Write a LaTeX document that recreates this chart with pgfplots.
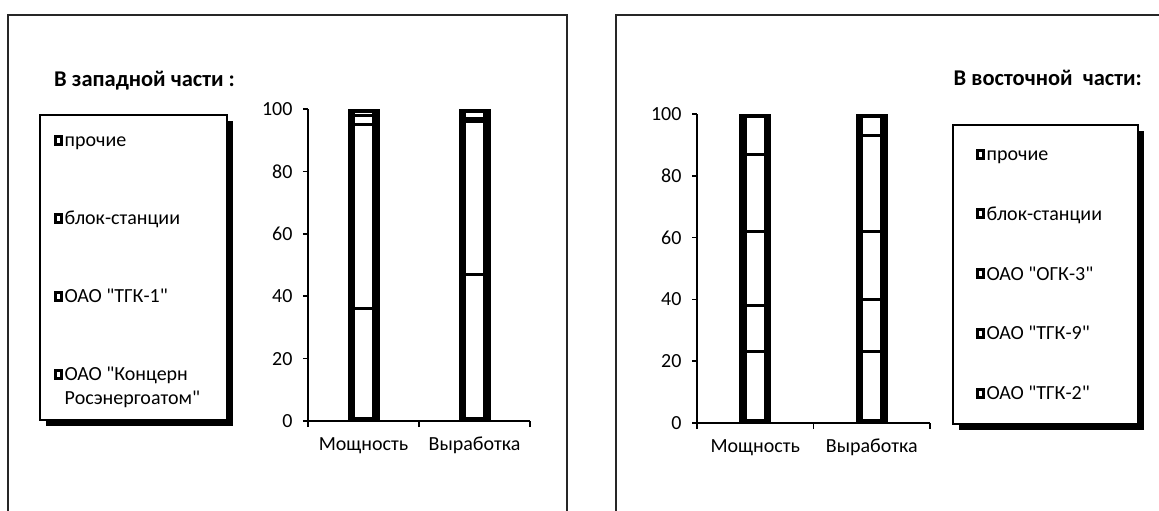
\documentclass[border=0pt]{standalone}
\usepackage{fontspec}
\setmainfont{Carlito}[Ligatures=TeXOff]
\usepackage{pgfplots}
\pgfplotsset{compat=1.18}
\pgfplotsset{
 mybar/.style={fill=white, draw=black, line width=3pt},
 myouter/.style={fill=none, draw=black, line width=7.5pt},
 mybars/.style={
  bar width=24.5pt,
  ymin=0, ymax=100, xmin=-0.5, xmax=1.5,
  scale only axis,
  axis lines=left,
  axis line style={-, line width=1.5pt, black},
  ytick={0,20,...,100},
  xtick={0,1}, xticklabels={Мощность,Выработка},
  minor xtick={-0.5,0.5,1.5},
  tick align=outside,
  major tick length=5pt, minor tick length=6pt,
  every major x tick/.append style={draw=none},
  every minor x tick/.append style={line width=1.5pt, black},
  every major y tick/.append style={line width=1.5pt, black},
  tick label style={font=\fontsize{20}{24}\selectfont},
  yticklabel style={xshift=-7pt},
  xticklabel style={yshift=-6pt, text height=15pt, text depth=5pt},
  /pgf/number format/assume math mode=true,
  reverse legend,
  legend cell align=left,
  legend style={draw=none, fill=none, inner sep=0pt,
    font=\fontsize{20}{24}\selectfont,
    nodes={text height=14pt, text depth=5pt, inner ysep=1pt, inner xsep=2pt}},
  legend image code/.code={\draw[black, line width=4pt, fill=white] (1pt,-4.5pt) rectangle (10pt,5pt);},
 }
}
\begin{document}
\begin{tikzpicture}[font=\fontsize{20}{24}\selectfont]
\useasboundingbox (0,0) rectangle (1159pt,-511pt);
% panel frames
\draw[black!85, line width=2pt] (8pt,-520pt) -- (8pt,-15pt) -- (567pt,-15pt) -- (567pt,-520pt);
\draw[black!85, line width=2pt] (616pt,-520pt) -- (616pt,-15pt) -- (1170pt,-15pt);
% legend frames
\fill[black] (46pt,-121pt) rectangle (233pt,-426pt);
\draw[black, line width=1.5pt, fill=white] (40pt,-115pt) rectangle (227pt,-420pt);
\fill[black] (959pt,-131pt) rectangle (1144pt,-430pt);
\draw[black, line width=1.5pt, fill=white] (953pt,-125pt) rectangle (1138pt,-424pt);
% titles
\node[anchor=base west, inner sep=0pt, font=\bfseries\fontsize{22.5}{27}\selectfont] at (54pt,-86pt) {В западной части :};
\node[anchor=base east, inner sep=0pt, font=\bfseries\fontsize{22.5}{27}\selectfont] at (1142pt,-85pt) {В восточной\ \ части:};

% West
\begin{axis}[mybars, ybar stacked, at={(308pt,-421pt)}, anchor=south west, width=222pt, height=312pt,
  legend style={at={(-1.1464,0.9279)}, anchor=north west, row sep=57pt}]
\addplot[mybar] coordinates {(0,36) (1,47)}; \addlegendentry{\begin{tabular}[t]{@{}l@{}}ОАО "Концерн\\Росэнергоатом"\end{tabular}}
\addplot[mybar] coordinates {(0,59) (1,49)}; \addlegendentry{ОАО "ТГК-1"}
\addplot[mybar] coordinates {(0,3) (1,1)}; \addlegendentry{блок-станции}
\addplot[mybar] coordinates {(0,2) (1,3)}; \addlegendentry{прочие}
\end{axis}
\begin{axis}[mybars, ybar, hide axis, at={(308pt,-421pt)}, anchor=south west, width=222pt, height=312pt]
\addplot[myouter] coordinates {(0,100) (1,100)};
\end{axis}

% East
\begin{axis}[mybars, ybar stacked, at={(697pt,-423pt)}, anchor=south west, width=233pt, height=309pt,
  legend style={at={(1.1953,0.898)}, anchor=north west, row sep=38.7pt}]
\addplot[mybar] coordinates {(0,23) (1,23)}; \addlegendentry{ОАО "ТГК-2"}
\addplot[mybar] coordinates {(0,15) (1,17)}; \addlegendentry{ОАО "ТГК-9"}
\addplot[mybar] coordinates {(0,24) (1,22)}; \addlegendentry{ОАО "ОГК-3"}
\addplot[mybar] coordinates {(0,25) (1,31)}; \addlegendentry{блок-станции}
\addplot[mybar] coordinates {(0,13) (1,7)}; \addlegendentry{прочие}
\end{axis}
\begin{axis}[mybars, ybar, hide axis, at={(697pt,-423pt)}, anchor=south west, width=233pt, height=309pt]
\addplot[myouter] coordinates {(0,100) (1,100)};
\end{axis}
\end{tikzpicture}
\end{document}
